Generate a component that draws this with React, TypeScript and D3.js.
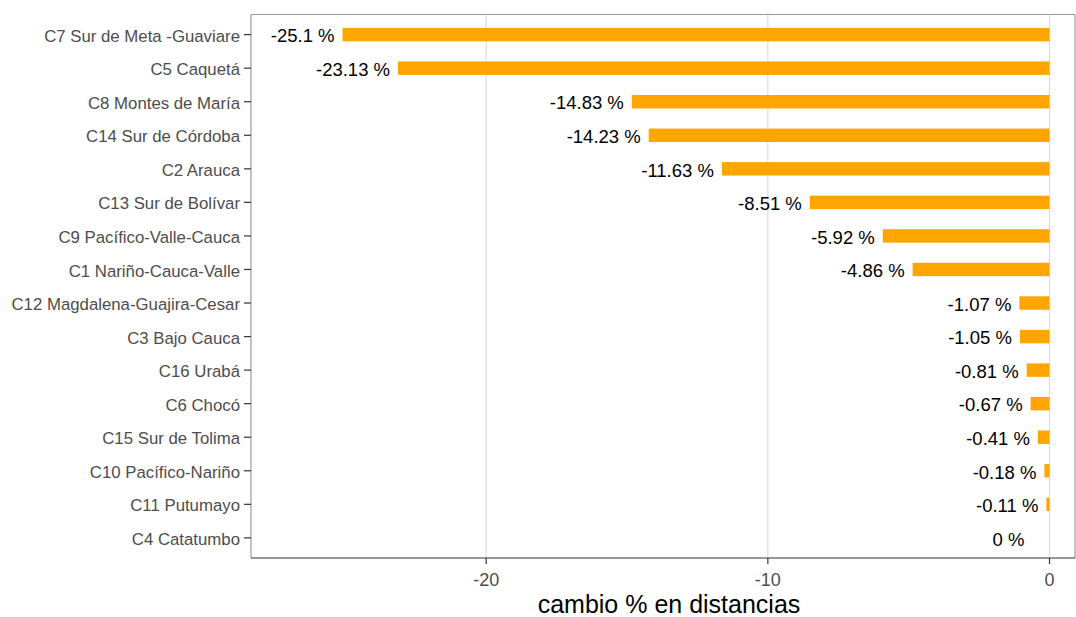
import React from "react";
import * as d3 from "d3";

const categories = [
  "C7 Sur de Meta -Guaviare",
  "C5 Caquetá",
  "C8 Montes de María",
  "C14 Sur de Córdoba",
  "C2 Arauca",
  "C13 Sur de Bolívar",
  "C9 Pacífico-Valle-Cauca",
  "C1 Nariño-Cauca-Valle",
  "C12 Magdalena-Guajira-Cesar",
  "C3 Bajo Cauca",
  "C16 Urabá",
  "C6 Chocó",
  "C15 Sur de Tolima",
  "C10 Pacífico-Nariño",
  "C11 Putumayo",
  "C4 Catatumbo",
];
const values = [-25.1, -23.13, -14.83, -14.23, -11.63, -8.51, -5.92, -4.86, -1.07, -1.05, -0.81, -0.67, -0.41, -0.18, -0.11, 0];
const xTicks = [-20, -10, 0];
const xTitle = "cambio % en distancias";

const W = 1076;
const H = 617;
const left = 251;
const right = 1075;
const top = 14.5;
const bottom = 558;

export default function App() {
  const x = d3.scaleLinear().domain([-28.35, 0.905]).range([left, right]);
  const y = d3.scalePoint<string>().domain(categories).range([top, bottom]).padding(0.6);
  const step = y.step();
  const barH = step * 0.4;
  const font = "'Liberation Sans', Arial, sans-serif";

  return (
    <svg width={W} height={H} style={{ position: "absolute", left: 0, top: 0 }} fontFamily={font}>
      <rect x={0} y={0} width={W} height={H} fill="#fff" />
      {xTicks.map((t) => (
        <line key={"g" + t} x1={x(t)} x2={x(t)} y1={top} y2={bottom} stroke="#dcdcdc" strokeWidth={1.2} />
      ))}
      {categories.map((c, i) => {
        const v = values[i];
        const cy = y(c)!;
        return (
          <g key={c}>
            <rect x={x(Math.min(v, 0))} y={cy - barH / 2} width={Math.abs(x(v) - x(0))} height={barH} fill="#FFA500" />
            <text
              x={x(v) - (v === 0 ? 25 : 8)}
              y={cy}
              dy="0.42em"
              textAnchor="end"
              fontSize={18.5}
              fill="#000"
            >
              {`${v} %`}
            </text>
          </g>
        );
      })}
      <line x1={left} x2={right} y1={top} y2={top} stroke="#9a9a9a" strokeWidth={1.2} />
      <line x1={right} x2={right} y1={top} y2={bottom} stroke="#9a9a9a" strokeWidth={1.2} />
      <line x1={left} x2={left} y1={top} y2={bottom} stroke="#9a9a9a" strokeWidth={1.2} />
      <line x1={left} x2={right} y1={bottom} y2={bottom} stroke="#333" strokeWidth={1.2} />
      {categories.map((c) => (
        <g key={"yt" + c}>
          <line x1={left - 7} x2={left} y1={y(c)!} y2={y(c)!} stroke="#333" strokeWidth={1.2} />
          <text x={left - 11} y={y(c)!} dy="0.42em" textAnchor="end" fontSize={16.8} fill="#4d4d4d">
            {c}
          </text>
        </g>
      ))}
      {xTicks.map((t) => (
        <g key={"xt" + t}>
          <line x1={x(t)} x2={x(t)} y1={bottom} y2={bottom + 6} stroke="#333" strokeWidth={1.2} />
          <text x={x(t)} y={bottom + 28} textAnchor="middle" fontSize={18} fill="#4d4d4d">
            {t}
          </text>
        </g>
      ))}
      <text x={(left + right) / 2 + 6} y={613} textAnchor="middle" fontSize={25} fill="#000">
        {xTitle}
      </text>
    </svg>
  );
}
